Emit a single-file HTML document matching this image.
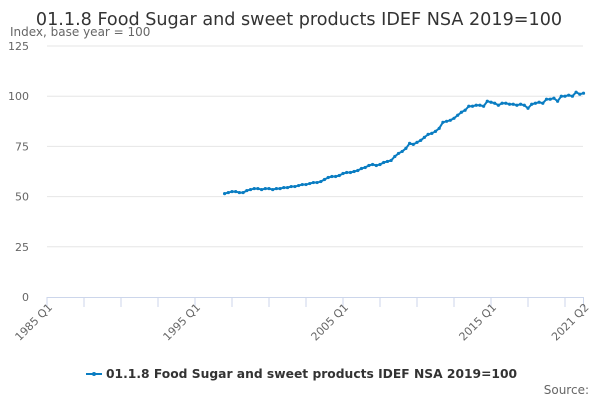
<!DOCTYPE html>
<html><head><meta charset="utf-8"><style>
body{margin:0;background:#fff;font-family:"Liberation Sans","DejaVu Sans",sans-serif}
svg text{font-family:"DejaVu Sans","Liberation Sans",sans-serif}
</style></head><body>
<svg id="c" width="600" height="400" viewBox="0 0 600 400">
<text x="299" y="25" text-anchor="middle" font-size="17.6" fill="#333">01.1.8 Food Sugar and sweet products IDEF NSA 2019=100</text>
<text x="10" y="36" font-size="12" fill="#666">Index, base year = 100</text>
<g id="grid"></g><g id="xt"></g><g id="ser"></g>
<g>
<line x1="86" y1="374" x2="102" y2="374" stroke="#0a7dc2" stroke-width="2"/>
<circle cx="94" cy="374" r="2" fill="#0a7dc2"/>
<text x="106" y="378" font-size="12.3" font-weight="bold" fill="#333">01.1.8 Food Sugar and sweet products IDEF NSA 2019=100</text>
</g>
<text x="589" y="394" text-anchor="end" font-size="12" fill="#666">Source:</text>
</svg>
<script>
const yTicks=[0,25,50,75,100,125];
const xTickLabels=["1985 Q1","1995 Q1","2005 Q1","2015 Q1","2021 Q2"];
const xTickIdx=[0,40,80,120,145];
const startIdx=48; // 1997 Q1
const values=[51.5,52,52.5,52.5,52,52,53,53.5,54,54,53.5,54,54,53.5,54,54,54.5,54.5,55,55,55.5,56,56,56.5,57,57,57.5,58.5,59.5,60,60,60.5,61.5,62,62,62.5,63,64,64.5,65.5,66,65.5,66,67,67.5,68,70,71.5,72.5,74,76.5,76,77,78,79.5,81,81.5,82.5,84,87,87.5,88,89,90.5,92,93,95,95,95.5,95.5,95,97.5,97,96.5,95.5,96.5,96.5,96,96,95.5,96,95.5,94,96,96.5,97,96.5,98.5,98.5,99,97.5,100,100,100.5,100,102,101,101.5,99.5,100,101].slice(0,98);
const NS='http://www.w3.org/2000/svg';
const x=i=>47+i*3.7, y=v=>297-v*2.008;
const grid=document.getElementById('grid'),xt=document.getElementById('xt'),ser=document.getElementById('ser');
function mk(tag,attrs,parent){const e=document.createElementNS(NS,tag);for(const k in attrs)e.setAttribute(k,attrs[k]);parent.appendChild(e);return e;}
yTicks.forEach(t=>{
 if(t>0){const l=mk('line',{x1:47,x2:583,y1:y(t),y2:y(t),stroke:'#e6e6e6'},grid);
 
 }
 const tx=mk('text',{x:29,y:y(t)+4,'text-anchor':'end','font-size':11,fill:'#666'},grid);tx.textContent=t;
 
 
});
const ax=mk('line',{x1:47,x2:583,y1:297.5,y2:297.5,stroke:'#ccd6eb'},xt);


for(let i=0;i<=145;i+=10){mk('line',{x1:x(i),x2:x(i),y1:297,y2:307,stroke:'#ccd6eb'},xt);}
mk('line',{x1:x(145),x2:x(145),y1:297,y2:307,stroke:'#ccd6eb'},xt);
xTickLabels.forEach((s,k)=>{const px=x(xTickIdx[k])+6;
 const t=mk('text',{x:px,y:308,'text-anchor':'end','font-size':11,fill:'#666',transform:`rotate(-45 ${px} 308)`},xt);t.textContent=s;
 
 });
const pts=values.map((v,i)=>x(startIdx+i)+','+y(v)).join(' ');
const pl=mk('polyline',{points:pts,fill:'none',stroke:'#0a7dc2','stroke-width':2},ser);


values.forEach((v,i)=>{const c=mk('circle',{cx:x(startIdx+i),cy:y(v),r:1.6,fill:'#0a7dc2'},ser);
 
 });
</script>
</body></html>
